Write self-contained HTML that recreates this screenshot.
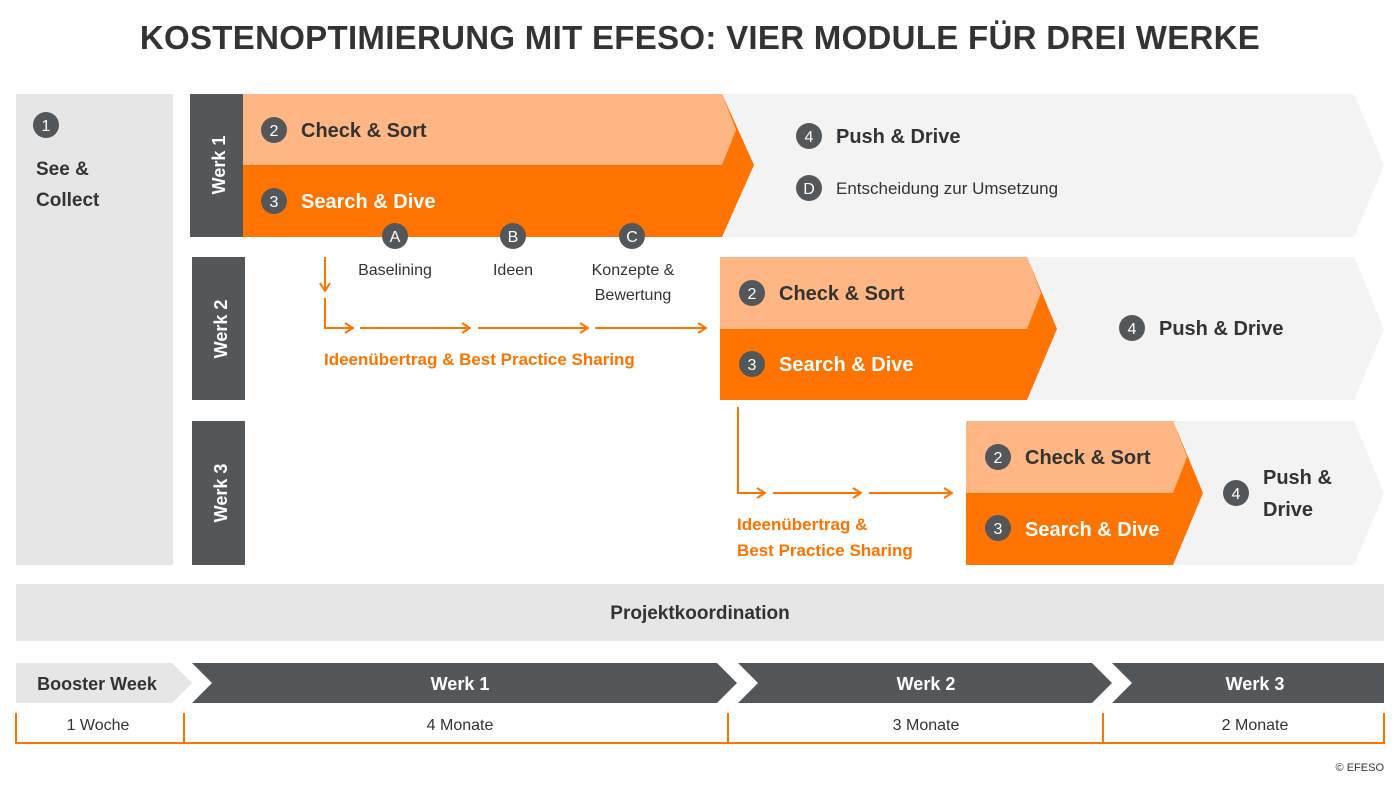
<!DOCTYPE html>
<html><head><meta charset="utf-8"><style>
html,body{margin:0;padding:0;background:#fff;}
svg{display:block;font-family:"Liberation Sans",sans-serif;}
</style></head><body>
<svg width="1400" height="785" viewBox="0 0 1400 785" xmlns="http://www.w3.org/2000/svg">
<defs>
<marker id="ah" markerWidth="10" markerHeight="12" refX="9" refY="6" orient="auto" markerUnits="userSpaceOnUse">
<path d="M1,1 L9,6 L1,11" fill="none" stroke="#ff7300" stroke-width="2"/>
</marker>
</defs>
<text x="700" y="49" text-anchor="middle" font-size="33" font-weight="bold" fill="#333" letter-spacing="0.3">KOSTENOPTIMIERUNG MIT EFESO: VIER MODULE FÜR DREI WERKE</text>

<!-- See & Collect -->
<rect x="16" y="94" width="157" height="471" fill="#e6e6e6"/>
<circle cx="46" cy="125" r="13" fill="#54575a"/><text x="46" y="131" text-anchor="middle" font-size="16" fill="#fff">1</text>
<text x="36" y="175" font-size="19" font-weight="bold" fill="#333">See &amp;</text>
<text x="36" y="206" font-size="19" font-weight="bold" fill="#333">Collect</text>

<!-- Werk labels -->
<rect x="190" y="94" width="53" height="143" fill="#54575a"/>
<text transform="translate(225,165) rotate(-90)" text-anchor="middle" font-size="18" font-weight="bold" fill="#fff">Werk 1</text>
<rect x="192" y="257" width="53" height="143" fill="#54575a"/>
<text transform="translate(227,329) rotate(-90)" text-anchor="middle" font-size="18" font-weight="bold" fill="#fff">Werk 2</text>
<rect x="192" y="421" width="53" height="144" fill="#54575a"/>
<text transform="translate(227,493) rotate(-90)" text-anchor="middle" font-size="18" font-weight="bold" fill="#fff">Werk 3</text>

<!-- Row 1 -->
<polygon points="700,94 1354,94 1384,165 1354,237 700,237" fill="#f3f3f3"/>
<polygon points="243,94 722,94 754,165 722,237 243,237" fill="#ff7300"/>
<polygon points="243,94 722,94 736,130 722,165 243,165" fill="#feb784"/>
<circle cx="274" cy="130" r="13" fill="#54575a"/><text x="274" y="136" text-anchor="middle" font-size="16" fill="#fff">2</text>
<text x="301" y="137" font-size="20" font-weight="bold" fill="#333">Check &amp; Sort</text>
<circle cx="274" cy="201" r="13" fill="#54575a"/><text x="274" y="207" text-anchor="middle" font-size="16" fill="#fff">3</text>
<text x="301" y="208" font-size="20" font-weight="bold" fill="#fff">Search &amp; Dive</text>
<circle cx="809" cy="136" r="13" fill="#54575a"/><text x="809" y="142" text-anchor="middle" font-size="16" fill="#fff">4</text>
<text x="836" y="143" font-size="20" font-weight="bold" fill="#333">Push &amp; Drive</text>
<circle cx="809" cy="188" r="13" fill="#54575a"/><text x="809" y="194" text-anchor="middle" font-size="16" fill="#fff">D</text>
<text x="836" y="194" font-size="17" fill="#333">Entscheidung zur Umsetzung</text>

<!-- A B C -->
<circle cx="395" cy="236" r="13" fill="#54575a"/><text x="395" y="242" text-anchor="middle" font-size="16" fill="#fff">A</text>
<circle cx="513" cy="236" r="13" fill="#54575a"/><text x="513" y="242" text-anchor="middle" font-size="16" fill="#fff">B</text>
<circle cx="632" cy="236" r="13" fill="#54575a"/><text x="632" y="242" text-anchor="middle" font-size="16" fill="#fff">C</text>
<text x="395" y="275" text-anchor="middle" font-size="16" fill="#333">Baselining</text>
<text x="513" y="275" text-anchor="middle" font-size="16" fill="#333">Ideen</text>
<text x="633" y="275" text-anchor="middle" font-size="16" fill="#333">Konzepte &amp;</text>
<text x="633" y="300" text-anchor="middle" font-size="16" fill="#333">Bewertung</text>

<!-- sharing arrows 1 -->
<g stroke="#ff7300" stroke-width="2" fill="none">
<line x1="325" y1="257" x2="325" y2="291" marker-end="url(#ah)"/>
<polyline points="325,298 325,328 353,328" marker-end="url(#ah)"/>
<line x1="360" y1="328" x2="470" y2="328" marker-end="url(#ah)"/>
<line x1="478" y1="328" x2="588" y2="328" marker-end="url(#ah)"/>
<line x1="595" y1="328" x2="706" y2="328" marker-end="url(#ah)"/>
</g>
<text x="324" y="365" font-size="17" font-weight="bold" fill="#ff7300">Ideenübertrag &amp; Best Practice Sharing</text>

<!-- Row 2 -->
<polygon points="1000,257 1354,257 1384,329 1354,400 1000,400" fill="#f3f3f3"/>
<polygon points="720,257 1027,257 1057,329 1027,400 720,400" fill="#ff7300"/>
<polygon points="720,257 1027,257 1041,293 1027,329 720,329" fill="#feb784"/>
<circle cx="752" cy="293" r="13" fill="#54575a"/><text x="752" y="299" text-anchor="middle" font-size="16" fill="#fff">2</text>
<text x="779" y="300" font-size="20" font-weight="bold" fill="#333">Check &amp; Sort</text>
<circle cx="752" cy="364" r="13" fill="#54575a"/><text x="752" y="370" text-anchor="middle" font-size="16" fill="#fff">3</text>
<text x="779" y="371" font-size="20" font-weight="bold" fill="#fff">Search &amp; Dive</text>
<circle cx="1132" cy="328" r="13" fill="#54575a"/><text x="1132" y="334" text-anchor="middle" font-size="16" fill="#fff">4</text>
<text x="1159" y="335" font-size="20" font-weight="bold" fill="#333">Push &amp; Drive</text>

<!-- sharing arrows 2 -->
<g stroke="#ff7300" stroke-width="2" fill="none">
<polyline points="738,407 738,493 765,493" marker-end="url(#ah)"/>
<line x1="773" y1="493" x2="861" y2="493" marker-end="url(#ah)"/>
<line x1="869" y1="493" x2="952" y2="493" marker-end="url(#ah)"/>
</g>
<text x="737" y="530" font-size="17" font-weight="bold" fill="#ff7300">Ideenübertrag &amp;</text>
<text x="737" y="556" font-size="17" font-weight="bold" fill="#ff7300">Best Practice Sharing</text>

<!-- Row 3 -->
<polygon points="1150,421 1354,421 1384,493 1354,565 1150,565" fill="#f3f3f3"/>
<polygon points="966,421 1173,421 1203,493 1173,565 966,565" fill="#ff7300"/>
<polygon points="966,421 1173,421 1187,457 1173,493 966,493" fill="#feb784"/>
<circle cx="998" cy="457" r="13" fill="#54575a"/><text x="998" y="463" text-anchor="middle" font-size="16" fill="#fff">2</text>
<text x="1025" y="464" font-size="20" font-weight="bold" fill="#333">Check &amp; Sort</text>
<circle cx="998" cy="528" r="13" fill="#54575a"/><text x="998" y="534" text-anchor="middle" font-size="16" fill="#fff">3</text>
<text x="1025" y="536" font-size="20" font-weight="bold" fill="#fff">Search &amp; Dive</text>
<circle cx="1236" cy="493" r="13" fill="#54575a"/><text x="1236" y="499" text-anchor="middle" font-size="16" fill="#fff">4</text>
<text x="1263" y="484" font-size="20" font-weight="bold" fill="#333">Push &amp;</text>
<text x="1263" y="516" font-size="20" font-weight="bold" fill="#333">Drive</text>

<!-- Projektkoordination -->
<rect x="16" y="584" width="1368" height="57" fill="#e6e6e6"/>
<text x="700" y="619" text-anchor="middle" font-size="19" font-weight="bold" fill="#333">Projektkoordination</text>

<!-- timeline -->
<polygon points="16,663 172,663 192,683 172,703 16,703" fill="#e6e6e6"/>
<polygon points="192,663 717,663 737,683 717,703 192,703 212,683" fill="#54575a"/>
<polygon points="738,663 1092,663 1112,683 1092,703 738,703 758,683" fill="#54575a"/>
<polygon points="1112,663 1384,663 1384,703 1112,703 1132,683" fill="#54575a"/>
<text x="97" y="690" text-anchor="middle" font-size="18" font-weight="bold" fill="#333">Booster Week</text>
<text x="460" y="690" text-anchor="middle" font-size="18" font-weight="bold" fill="#fff">Werk 1</text>
<text x="926" y="690" text-anchor="middle" font-size="18" font-weight="bold" fill="#fff">Werk 2</text>
<text x="1255" y="690" text-anchor="middle" font-size="18" font-weight="bold" fill="#fff">Werk 3</text>
<g stroke="#ff7300" stroke-width="2">
<line x1="16" y1="743" x2="1384" y2="743"/>
<line x1="16" y1="713" x2="16" y2="744"/>
<line x1="184" y1="713" x2="184" y2="744"/>
<line x1="728" y1="713" x2="728" y2="744"/>
<line x1="1103" y1="713" x2="1103" y2="744"/>
<line x1="1384" y1="713" x2="1384" y2="744"/>
</g>
<text x="98" y="730" text-anchor="middle" font-size="16" fill="#333">1 Woche</text>
<text x="460" y="730" text-anchor="middle" font-size="16" fill="#333">4 Monate</text>
<text x="926" y="730" text-anchor="middle" font-size="16" fill="#333">3 Monate</text>
<text x="1255" y="730" text-anchor="middle" font-size="16" fill="#333">2 Monate</text>
<text x="1384" y="771" text-anchor="end" font-size="11" fill="#333">© EFESO</text>
</svg>
</body></html>
